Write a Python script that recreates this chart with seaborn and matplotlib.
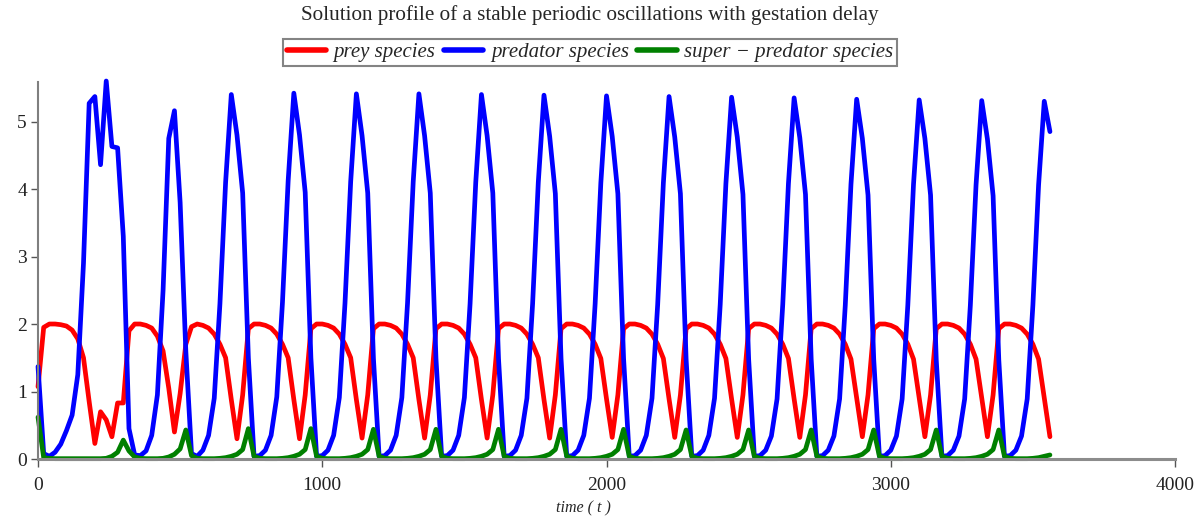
import numpy as np
import pandas as pd
import matplotlib
matplotlib.use('Agg')
import matplotlib.pyplot as plt
from matplotlib.lines import Line2D
from matplotlib.ticker import MultipleLocator
import seaborn as sns

# sampled every 20 time units, t = 0 .. 3560
time = np.arange(0, 3561, 20)

# transient part, t = 0 .. 540
prey_start = [1.07, 1.95, 2.00, 2.00, 1.99, 1.97, 1.91, 1.78, 1.50, 0.85,
              0.23, 0.70, 0.58, 0.33, 0.83, 0.83, 1.90, 2.00, 2.00, 1.98,
              1.94, 1.82, 1.60, 1.05, 0.40, 0.97, 1.70, 1.96]
predator_start = [1.37, 0.08, 0.04, 0.10, 0.22, 0.42, 0.65, 1.25, 2.90, 5.27,
                  5.37, 4.36, 5.60, 4.63, 4.61, 3.30, 0.45, 0.06, 0.05, 0.12,
                  0.35, 0.95, 2.50, 4.75, 5.16, 3.80, 1.60, 0.08]
super_start = [0.62, 0.02, 0.01, 0.005, 0.005, 0.005, 0.005, 0.005, 0.005, 0.005,
               0.005, 0.005, 0.01, 0.04, 0.10, 0.28, 0.12, 0.03, 0.01, 0.005,
               0.005, 0.005, 0.01, 0.03, 0.07, 0.15, 0.43, 0.05]

# periodic part, t = 560 .. 3560, one row per cycle
prey_cycles = [
    2.00, 1.98, 1.94, 1.85, 1.70, 1.50, 0.88, 0.30, 0.95, 1.93, 2.00,
    2.00, 1.98, 1.94, 1.85, 1.70, 1.50, 0.88, 0.30, 0.95, 1.93, 2.00,
    2.00, 1.98, 1.94, 1.85, 1.70, 1.50, 0.88, 0.31, 0.95, 1.93, 2.00,
    2.00, 1.98, 1.94, 1.85, 1.70, 1.50, 0.88, 0.31, 0.95, 1.93, 2.00,
    2.00, 1.98, 1.94, 1.85, 1.70, 1.50, 0.88, 0.31, 0.95, 1.93, 2.00,
    2.00, 1.98, 1.94, 1.85, 1.70, 1.50, 0.88, 0.31, 0.95, 1.93, 2.00,
    2.00, 1.98, 1.94, 1.85, 1.70, 1.49, 0.89, 0.32, 0.95, 1.93, 2.00,
    2.00, 1.98, 1.94, 1.85, 1.70, 1.49, 0.89, 0.32, 0.95, 1.93, 2.00,
    2.00, 1.98, 1.94, 1.85, 1.70, 1.49, 0.89, 0.32, 0.95, 1.93, 2.00,
    2.00, 1.98, 1.94, 1.85, 1.70, 1.49, 0.89, 0.32, 0.95, 1.93, 2.00,
    2.00, 1.98, 1.94, 1.85, 1.70, 1.48, 0.90, 0.33, 0.95, 1.93, 2.00,
    2.00, 1.98, 1.94, 1.85, 1.70, 1.48, 0.90, 0.33, 0.95, 1.93, 2.00,
    2.00, 1.98, 1.94, 1.85, 1.70, 1.48, 0.90, 0.33, 0.95, 1.93, 2.00,
    2.00, 1.98, 1.94, 1.85, 1.70, 1.48, 0.90, 0.33,
]
predator_cycles = [
    0.04, 0.13, 0.35, 0.90, 2.30, 4.10, 5.40, 4.80, 3.94, 1.50, 0.04,
    0.05, 0.13, 0.35, 0.92, 2.32, 4.12, 5.42, 4.80, 3.95, 1.50, 0.04,
    0.05, 0.13, 0.35, 0.91, 2.31, 4.11, 5.41, 4.79, 3.94, 1.49, 0.04,
    0.05, 0.13, 0.35, 0.91, 2.31, 4.11, 5.41, 4.79, 3.94, 1.49, 0.04,
    0.05, 0.13, 0.35, 0.91, 2.30, 4.10, 5.40, 4.79, 3.94, 1.49, 0.04,
    0.05, 0.13, 0.35, 0.90, 2.30, 4.10, 5.39, 4.78, 3.93, 1.49, 0.04,
    0.05, 0.13, 0.35, 0.90, 2.30, 4.09, 5.38, 4.78, 3.93, 1.49, 0.04,
    0.05, 0.13, 0.35, 0.90, 2.29, 4.09, 5.37, 4.77, 3.93, 1.48, 0.04,
    0.05, 0.13, 0.35, 0.90, 2.29, 4.08, 5.36, 4.77, 3.92, 1.48, 0.04,
    0.05, 0.13, 0.34, 0.89, 2.29, 4.08, 5.35, 4.76, 3.92, 1.48, 0.04,
    0.05, 0.13, 0.34, 0.89, 2.28, 4.07, 5.33, 4.75, 3.91, 1.48, 0.04,
    0.05, 0.13, 0.34, 0.89, 2.28, 4.07, 5.32, 4.75, 3.91, 1.47, 0.04,
    0.05, 0.13, 0.34, 0.89, 2.28, 4.06, 5.31, 4.74, 3.90, 1.47, 0.04,
    0.05, 0.13, 0.34, 0.89, 2.28, 4.06, 5.30, 4.85,
]
super_cycles = [
    0.01, 0.005, 0.005, 0.005, 0.01, 0.02, 0.04, 0.07, 0.14, 0.45, 0.04,
    0.01, 0.005, 0.005, 0.005, 0.01, 0.02, 0.04, 0.07, 0.14, 0.45, 0.04,
    0.01, 0.005, 0.005, 0.005, 0.01, 0.02, 0.04, 0.07, 0.14, 0.44, 0.04,
    0.01, 0.005, 0.005, 0.005, 0.01, 0.02, 0.04, 0.07, 0.14, 0.44, 0.04,
    0.01, 0.005, 0.005, 0.005, 0.01, 0.02, 0.04, 0.07, 0.14, 0.44, 0.04,
    0.01, 0.005, 0.005, 0.005, 0.01, 0.02, 0.04, 0.07, 0.14, 0.44, 0.04,
    0.01, 0.005, 0.005, 0.005, 0.01, 0.02, 0.04, 0.07, 0.14, 0.44, 0.04,
    0.01, 0.005, 0.005, 0.005, 0.01, 0.02, 0.04, 0.07, 0.14, 0.43, 0.04,
    0.01, 0.005, 0.005, 0.005, 0.01, 0.02, 0.04, 0.07, 0.14, 0.43, 0.04,
    0.01, 0.005, 0.005, 0.005, 0.01, 0.02, 0.04, 0.07, 0.14, 0.43, 0.04,
    0.01, 0.005, 0.005, 0.005, 0.01, 0.02, 0.04, 0.07, 0.14, 0.43, 0.04,
    0.01, 0.005, 0.005, 0.005, 0.01, 0.02, 0.04, 0.07, 0.14, 0.43, 0.04,
    0.01, 0.005, 0.005, 0.005, 0.01, 0.02, 0.04, 0.07, 0.14, 0.43, 0.04,
    0.01, 0.005, 0.005, 0.005, 0.01, 0.02, 0.04, 0.06,
]

prey = prey_start + prey_cycles
predator = predator_start + predator_cycles
super_predator = super_start + super_cycles

labels = ['prey species', 'predator species', 'super \u2212 predator species']
colors = ['#ff0000', '#0000ff', '#008000']

df = pd.concat([
    pd.DataFrame({'t': time, 'value': prey, 'species': labels[0]}),
    pd.DataFrame({'t': time, 'value': predator, 'species': labels[1]}),
    pd.DataFrame({'t': time, 'value': super_predator, 'species': labels[2]}),
], ignore_index=True)

sns.set_style('white')
plt.rcParams['font.family'] = ['Liberation Serif', 'DejaVu Serif']

fig = plt.figure(figsize=(11.99, 5.2), dpi=100)
ax = fig.add_axes([0.0317, 0.1173, 0.9483, 0.7256])

sns.lineplot(data=df, x='t', y='value', hue='species', palette=colors,
             hue_order=labels, linewidth=3.4, sort=False, errorbar=None,
             legend=False, clip_on=False, ax=ax)

ax.set_xlim(0, 4000)
ax.set_ylim(0, 5.59)
ax.set_xlabel('')
ax.set_ylabel('')

for side in ['top', 'right']:
    ax.spines[side].set_visible(False)
ax.spines['left'].set_color('#7f7f7f')
ax.spines['left'].set_linewidth(1.5)
ax.spines['bottom'].set_color('#8c8c8c')
ax.spines['bottom'].set_linewidth(2.2)

ax.xaxis.set_major_locator(MultipleLocator(1000))
ax.xaxis.set_minor_locator(MultipleLocator(500))
ax.yaxis.set_major_locator(MultipleLocator(1))
ax.yaxis.set_minor_locator(MultipleLocator(0.5))
ax.tick_params(which='both', direction='out', color='#555555', width=1,
               labelsize=14, labelcolor='#222222')
ax.tick_params(which='major', length=5, pad=3)
ax.tick_params(which='minor', length=4)
ax.tick_params(axis='x', which='major', length=6, pad=7)
ax.tick_params(axis='both', bottom=True, left=True)

fig.text(0.492, 0.971, 'Solution profile of a stable periodic oscillations with gestation delay',
         ha='center', va='center', fontsize=15.2)

handles = [Line2D([0], [0], color=c, lw=4) for c in colors]
leg = fig.legend(handles, labels, loc='center', bbox_to_anchor=(0.492, 0.899),
                 ncol=3, frameon=True, fancybox=False, edgecolor='#666666',
                 prop={'style': 'italic', 'size': 15}, handlelength=1.9,
                 handletextpad=0.35, columnspacing=0.4, borderpad=0.2,
                 borderaxespad=0)
leg.get_frame().set_linewidth(1.5)

fig.text(0.487, 0.023, 'time ( t )', ha='center', va='center',
         fontsize=11.5, style='italic')

fig.savefig('out.png', dpi=100)
